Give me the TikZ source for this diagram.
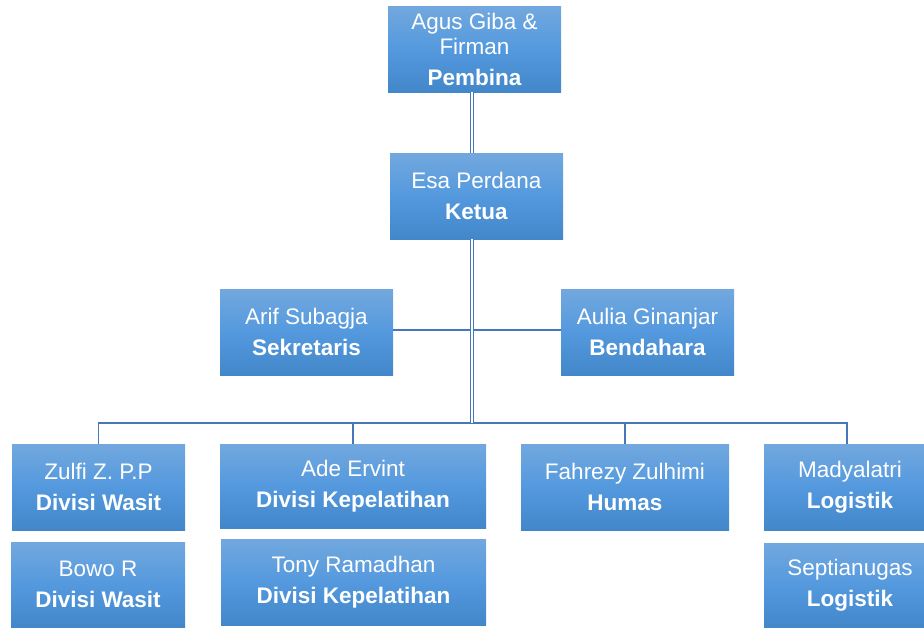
\documentclass[tikz,border=0pt]{standalone}
\usepackage{fontspec}
\setmainfont{Liberation Sans}
\definecolor{linecol}{RGB}{70,120,185}
\definecolor{boxtop}{RGB}{114,168,222}
\definecolor{boxmid}{RGB}{84,153,222}
\definecolor{boxbot}{RGB}{66,135,201}
\tikzset{
  orgbox/.style={rectangle, inner sep=0pt, top color=boxtop, bottom color=boxbot, middle color=boxmid,
    text=white, align=center, font=\fontsize{22.5}{25}\selectfont},
  conn/.style={draw=linecol, line width=1.2pt},
  dconn/.style={draw=linecol, line width=1.1pt, double=white, double distance=1.3pt}
}
\begin{document}
\begin{tikzpicture}[x=1pt,y=-1pt]
\useasboundingbox (0,0) rectangle (924,627);
\node[orgbox, minimum width=173pt, minimum height=86pt] (pem) at (474.5,49) {Agus Giba \&\\Firman\\[6pt]\textbf{Pembina}};
\node[orgbox, minimum width=173pt, minimum height=86pt] (ket) at (476.5,196) {Esa Perdana\\[6pt]\textbf{Ketua}};
\node[orgbox, minimum width=173pt, minimum height=86pt] (sek) at (306.5,332) {Arif Subagja\\[6pt]\textbf{Sekretaris}};
\node[orgbox, minimum width=173pt, minimum height=86pt] (ben) at (647.5,332) {Aulia Ginanjar\\[6pt]\textbf{Bendahara}};
\node[orgbox, minimum width=173pt, minimum height=86pt] (zul) at (98.5,487) {Zulfi Z. P.P\\[6pt]\textbf{Divisi Wasit}};
\node[orgbox, minimum width=174pt, minimum height=85pt] (bow) at (98,584.5) {Bowo R\\[6pt]\textbf{Divisi Wasit}};
\node[orgbox, minimum width=266pt, minimum height=84pt] (ade) at (353,486) {Ade Ervint\\[6pt]\textbf{Divisi Kepelatihan}};
\node[orgbox, minimum width=265pt, minimum height=86pt] (ton) at (353.5,582) {Tony Ramadhan\\[6pt]\textbf{Divisi Kepelatihan}};
\node[orgbox, minimum width=208pt, minimum height=86pt] (fah) at (625,487) {Fahrezy Zulhimi\\[6pt]\textbf{Humas}};
\node[orgbox, minimum width=172pt, minimum height=86pt] (mad) at (850,487) {Madyalatri\\[6pt]\textbf{Logistik}};
\node[orgbox, minimum width=172pt, minimum height=84pt] (sep) at (850,585) {Septianugas\\[6pt]\textbf{Logistik}};
\coordinate (t) at (472,423);
\coordinate (bl) at (98,423);
\coordinate (br) at (847,423);
\coordinate (hm) at (472,330);
\draw[conn] (sek.east |- hm) -- (ben.west |- hm);
\draw[conn] (zul.north) -- (zul.north |- bl) -- (br) -- (mad.north -| br);
\draw[conn] (ade.north) -- (ade.north |- bl);
\draw[conn] (fah.north) -- (fah.north |- bl);
\draw[dconn] (pem.south -| t) -- (ket.north -| t);
\draw[dconn] (ket.south -| t) -- (t);
\end{tikzpicture}
\end{document}
